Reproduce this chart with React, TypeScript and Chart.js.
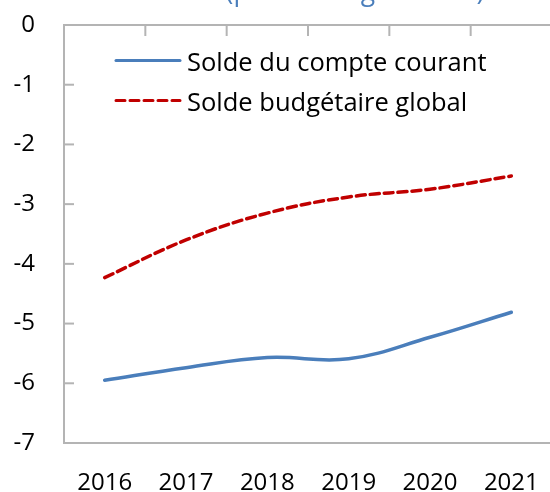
import React, { useEffect, useRef } from "react";
import { Chart, registerables } from "chart.js";

Chart.register(...registerables);

const years = ["2016", "2017", "2018", "2019", "2020", "2021"];
const compteCourant = [-5.95, -5.74, -5.57, -5.59, -5.23, -4.81];
const soldeBudgetaire = [-4.23, -3.6, -3.15, -2.88, -2.75, -2.53];
const yTicks = [0, -1, -2, -3, -4, -5, -6, -7];
const titleText = "(pourcentage du PIB)";

const FONT = "'Open Sans', 'Noto Sans', sans-serif";
const AXIS_COLOR = "#b4b4b4";

const decorPlugin = {
  id: "decor",
  afterDraw(chart: any) {
    const { ctx, chartArea } = chart;
    const x = chart.scales.x;
    const y = chart.scales.y;
    ctx.save();
    // top axis line (horizontal axis crossing at 0)
    ctx.strokeStyle = AXIS_COLOR;
    ctx.lineWidth = 2;
    const y0 = y.getPixelForValue(0);
    ctx.beginPath();
    ctx.moveTo(chartArea.left, y0);
    ctx.lineTo(chartArea.right, y0);
    ctx.stroke();
    // inward y tick marks
    yTicks.forEach((v) => {
      const py = y.getPixelForValue(v);
      ctx.beginPath();
      ctx.moveTo(chartArea.left, py);
      ctx.lineTo(chartArea.left + 10, py);
      ctx.stroke();
    });
    // inward x tick marks at category boundaries (on the 0 axis)
    for (let i = 1; i <= years.length; i++) {
      const a = x.getPixelForValue(i - 1);
      const b = i < years.length ? x.getPixelForValue(i) : a + (a - x.getPixelForValue(i - 2));
      const px = (a + b) / 2;
      ctx.beginPath();
      ctx.moveTo(px, y0);
      ctx.lineTo(px, y0 + 11);
      ctx.stroke();
    }
    // legend
    ctx.font = `25.5px ${FONT}`;
    ctx.textAlign = "left";
    ctx.textBaseline = "alphabetic";
    chart.data.datasets.forEach((ds: any, i: number) => {
      const ly = chartArea.top + 35.5 + i * 40;
      ctx.strokeStyle = ds.borderColor;
      ctx.lineWidth = 3;
      ctx.lineCap = "round";
      ctx.setLineDash(ds.borderDash || []);
      ctx.beginPath();
      ctx.moveTo(chartArea.left + 52, ly);
      ctx.lineTo(chartArea.left + 116, ly);
      ctx.stroke();
      ctx.setLineDash([]);
      ctx.fillStyle = "#000";
      ctx.fillText(ds.label, chartArea.left + 123, ly + 10.5);
    });
    // title (mostly cut off at the top)
    ctx.font = `26.5px ${FONT}`;
    ctx.fillStyle = "#4A7EBB";
    ctx.textAlign = "center";
    ctx.fillText(titleText, 355, 0);
    ctx.restore();
  },
};

export default function App() {
  const ref = useRef<HTMLCanvasElement>(null);
  useEffect(() => {
    if (!ref.current) return;
    const chart = new Chart(ref.current, {
      type: "line",
      data: {
        labels: years,
        datasets: [
          {
            label: "Solde du compte courant",
            data: compteCourant,
            borderColor: "#4A7EBB",
            borderWidth: 3.5,
            tension: 0.4,
            pointRadius: 0,
            borderCapStyle: "round",
            fill: false,
          },
          {
            label: "Solde budgétaire global",
            data: soldeBudgetaire,
            borderColor: "#C00000",
            borderWidth: 3.5,
            borderDash: [9, 5],
            tension: 0.4,
            pointRadius: 0,
            borderCapStyle: "round",
            fill: false,
          },
        ],
      },
      options: {
        responsive: false,
        animation: false,
        devicePixelRatio: 1,
        layout: { padding: { top: 25, right: 0, bottom: 0, left: 0 } },
        plugins: {
          legend: { display: false },
          title: { display: false },
          tooltip: { enabled: false },
        },
        scales: {
          x: {
            type: "category",
            offset: true,
            grid: { display: false, drawTicks: false },
            border: { display: true, color: AXIS_COLOR, width: 2 },
            ticks: {
              font: { size: 24, family: FONT },
              color: "#000",
              padding: 26,
              maxRotation: 0,
              autoSkip: false,
            },
            afterFit(scale: any) {
              scale.height = 49;
              scale.paddingLeft = 0;
              scale.paddingRight = 0;
            },
          },
          y: {
            min: -7,
            max: 0,
            grid: { display: false, drawTicks: false },
            border: { display: true, color: AXIS_COLOR, width: 2 },
            ticks: {
              stepSize: 1,
              font: { size: 24, family: FONT },
              color: "#000",
              padding: 29,
            },
            afterFit(scale: any) {
              scale.width = 64;
              scale.paddingTop = 0;
              scale.paddingBottom = 0;
            },
          },
        },
      },
      plugins: [decorPlugin],
    });
    return () => chart.destroy();
  }, []);
  return (
    <div style={{ position: "absolute", left: 0, top: 0, width: 550, height: 492, overflow: "hidden", background: "#fff" }}>
      <canvas ref={ref} width={552} height={492} style={{ display: "block" }} />
    </div>
  );
}
